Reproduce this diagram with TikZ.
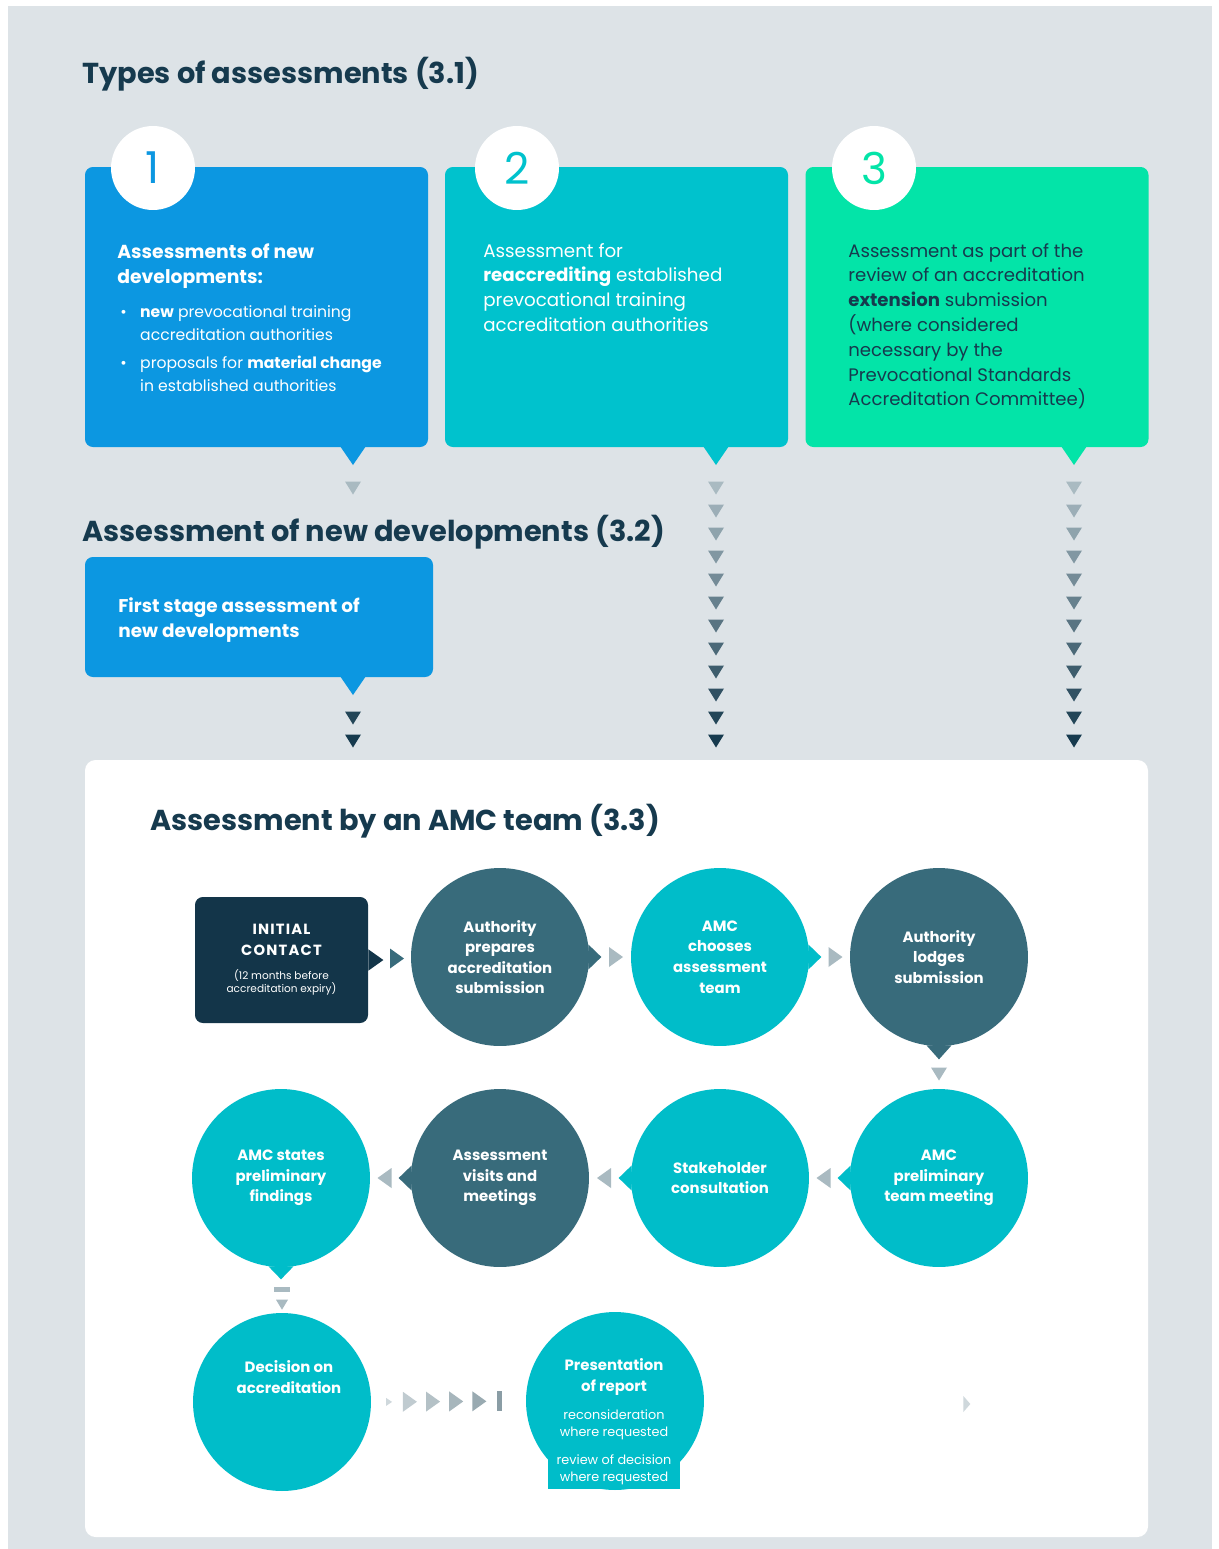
\documentclass[tikz,border=0pt]{standalone}
\usepackage{fontspec}
\setmainfont{Poppins}
\usetikzlibrary{calc}
\definecolor{bggray}{HTML}{DDE3E7}
\definecolor{navy}{HTML}{163A4E}
\definecolor{boxblue}{HTML}{0C97E1}
\definecolor{boxteal}{HTML}{00C2CD}
\definecolor{boxgreen}{HTML}{03E4A8}
\definecolor{slate}{HTML}{386B7B}
\definecolor{cteal}{HTML}{00BDC9}
\definecolor{darkbox}{HTML}{133549}
\definecolor{lgray}{HTML}{A9BAC1}
\definecolor{mgray}{HTML}{8A9DA5}
\definecolor{fgray}{HTML}{CFD8DC}
\tikzset{
  heading/.style={anchor=base west, inner sep=0, font=\fontsize{16.4}{19}\selectfont\bfseries, text=navy},
  tbox/.style={rounded corners=4.5pt, inner sep=0, minimum width=343*0.02cm, minimum height=280*0.02cm},
  numcirc/.style={circle, fill=white, inner sep=0, minimum size=1.68cm, font=\fontsize{25}{25}\selectfont},
  btext/.style={anchor=north west, inner sep=0, align=left},
  circ/.style={circle, inner sep=0, minimum size=3.56cm, text=white, align=center, font=\fontsize{8.5}{11.7}\selectfont\bfseries},
  ctext/.style={inner sep=0, text=white, align=center},
}
\newcommand\mkright[2]{\fill[#2] ($(#1)+(-7,-10)$) -- ($(#1)+(-7,10)$) -- ($(#1)+(7,0)$) -- cycle;}
\newcommand\mkleft[2]{\fill[#2] ($(#1)+(7,-10)$) -- ($(#1)+(7,10)$) -- ($(#1)+(-7,0)$) -- cycle;}
\newcommand\mkdown[2]{\fill[#2] ($(#1)+(-8,-6.5)$) -- ($(#1)+(8,-6.5)$) -- ($(#1)+(0,6.5)$) -- cycle;}
\begin{document}
\begin{tikzpicture}[x=0.02cm,y=-0.02cm]
\useasboundingbox (0,0) rectangle (1219,1549);
\fill[white] (0,0) rectangle (1219,1549);
\fill[bggray] (8,6) rectangle (1212,1549);

% ---------- 3.1 ----------
\node[heading] (h1) at (82,83) {Types of assessments (3.1)};

\node[tbox, fill=boxblue] (b1) at (256.5,307) {};
\node[tbox, fill=boxteal] (b2) at (616.5,307) {};
\node[tbox, fill=boxgreen] (b3) at (977,307) {};
\fill[boxblue] (340,446) -- (366,446) -- (353,465) -- cycle;
\fill[boxteal] (703,446) -- (729,446) -- (716,465) -- cycle;
\fill[boxgreen] (1061,446) -- (1087,446) -- (1074,465) -- cycle;
\node[numcirc] (n1) at (153,168) {\textcolor{boxblue}{1}};
\node[numcirc] (n2) at (517,168) {\textcolor{boxteal}{2}};
\node[numcirc] (n3) at (874,168) {\textcolor{boxgreen}{3}};

\node[btext, text=white, font=\fontsize{10.7}{14.2}\selectfont\bfseries] (t1a) at (117,243) {Assessments of new\\developments:};
\node[btext, text=white, font=\fontsize{8.9}{13}\selectfont] (t1b) at (120,301)
  {\begin{tabular}{@{}p{11.3pt}@{}l@{}}\textbullet & \textbf{new} prevocational training\\
   & accreditation authorities\\[3pt]
   \textbullet & proposals for \textbf{material change}\\
   & in established authorities\end{tabular}};
\node[btext, text=white, font=\fontsize{10.4}{14}\selectfont] (t2) at (483,243)
  {Assessment for\\\textbf{reaccrediting} established\\prevocational training\\accreditation authorities};
\node[btext, text=navy, font=\fontsize{10.3}{14.1}\selectfont] (t3) at (848,243)
  {Assessment as part of the\\review of an accreditation\\\textbf{extension} submission\\(where considered\\necessary by the\\Prevocational Standards\\Accreditation Committee)};

% ---------- arrow columns ----------
\foreach \i in {0,...,11}{
  \pgfmathsetmacro\p{100*\i/11}
  \coordinate (cb\i) at (716,488+23*\i);
  \coordinate (cc\i) at (1074,488+23*\i);
  \mkdown{cb\i}{navy!\p!lgray}
  \mkdown{cc\i}{navy!\p!lgray}
}
\coordinate (ca0) at (353,488);
\coordinate (ca1) at (353,718);
\coordinate (ca2) at (353,741);
\mkdown{ca0}{lgray}
\mkdown{ca1}{navy!91!lgray}
\mkdown{ca2}{navy}

% ---------- 3.2 ----------
\node[heading] (h2) at (82,541) {Assessment of new developments (3.2)};
\node[rounded corners=4.5pt, inner sep=0, fill=boxblue, minimum width=348*0.02cm, minimum height=120*0.02cm] (fs) at (259,617) {};
\fill[boxblue] (340,676) -- (366,676) -- (353,695) -- cycle;
\node[btext, text=white, font=\fontsize{10.5}{14.2}\selectfont\bfseries] (fst) at (118,597) {First stage assessment of\\new developments};

% ---------- 3.3 panel ----------
\node[fill=white, rounded corners=6pt, inner sep=0, minimum width=1063*0.02cm, minimum height=777*0.02cm] (panel) at (616.5,1148.5) {};
\node[heading] (h3) at (150,830) {Assessment by an AMC team (3.3)};

% row 1
\node[fill=darkbox, rounded corners=4.5pt, inner sep=0, minimum width=173*0.02cm, minimum height=126*0.02cm] (ic) at (281.5,960) {};
\node[ctext, font=\fontsize{8.4}{12}\selectfont\bfseries\addfontfeature{LetterSpace=8}] (icA) at ($(ic.center)+(0,-20)$) {INITIAL\\CONTACT};
\node[ctext, font=\fontsize{6}{7.4}\selectfont] (icB) at ($(ic.center)+(0,22)$) {(12 months before\\accreditation expiry)};

\node[circ, fill=slate] (c1) at (500,957) {Authority\\prepares\\accreditation\\submission};
\node[circ, fill=cteal] (c2) at (720,957) {AMC\\chooses\\assessment\\team};
\node[circ, fill=slate] (c3) at (939,957) {Authority\\lodges\\submission};
% row 2
\node[circ, fill=cteal] (c4) at (939,1178) {AMC\\preliminary\\team meeting};
\node[circ, fill=cteal] (c5) at (720,1178) {Stakeholder\\consultation};
\node[circ, fill=slate] (c6) at (500,1178) {Assessment\\visits and\\meetings};
\node[circ, fill=cteal] (c7) at (281,1178) {AMC states\\preliminary\\findings};
% row 3
\node[circ, fill=cteal] (c8) at (282,1402) {};
\node[circ, fill=cteal] (c9) at (615,1401) {};
\node[ctext, font=\fontsize{8.5}{12.4}\selectfont\bfseries] (c8t) at (289,1377) {Decision on\\accreditation};
\node[ctext, font=\fontsize{8.5}{12.4}\selectfont\bfseries] (c9t) at (614,1377) {Presentation\\of report};
\node[ctext, font=\fontsize{7.3}{9.8}\selectfont] (c9s) at (614,1425) {reconsideration\\where requested};
\node[fill=cteal, inner sep=0, minimum width=132*0.02cm, minimum height=38*0.02cm, text=white, align=center, font=\fontsize{7.3}{9.8}\selectfont] (rv) at (614,1470) {review of decision\\where requested};

% pointers (speech-bubble tips)
\fill[darkbox] (ic.7) -- ($(ic.east)+(15,0)$) -- (ic.-7) -- cycle;
\fill[slate] (c1.8) -- ($(c1.east)+(12,0)$) -- (c1.-8) -- cycle;
\fill[cteal] (c2.8) -- ($(c2.east)+(12,0)$) -- (c2.-8) -- cycle;
\fill[slate] (c3.-82) -- ($(c3.south)+(0,13)$) -- (c3.-98) -- cycle;
\fill[cteal] (c4.172) -- ($(c4.west)+(-12,0)$) -- (c4.188) -- cycle;
\fill[cteal] (c5.172) -- ($(c5.west)+(-12,0)$) -- (c5.188) -- cycle;
\fill[slate] (c6.172) -- ($(c6.west)+(-12,0)$) -- (c6.188) -- cycle;
\fill[cteal] (c7.-82) -- ($(c7.south)+(0,12)$) -- (c7.-98) -- cycle;

% flow markers
\coordinate (m1) at ($($(ic.east)+(15,0)$)!0.5!(c1.west)$);
\coordinate (m2) at ($($(c1.east)+(12,0)$)!0.5!(c2.west)$);
\coordinate (m3) at ($($(c2.east)+(12,0)$)!0.5!(c3.west)$);
\coordinate (m4) at ($($(c3.south)+(0,13)$)!0.5!(c4.north)$);
\coordinate (m5) at ($($(c4.west)+(-12,0)$)!0.5!(c5.east)$);
\coordinate (m6) at ($($(c5.west)+(-12,0)$)!0.5!(c6.east)$);
\coordinate (m7) at ($($(c6.west)+(-12,0)$)!0.5!(c7.east)$);
\mkright{m1}{slate}
\mkright{m2}{lgray}
\mkright{m3}{lgray}
\mkdown{m4}{lgray}
\mkleft{m5}{lgray}
\mkleft{m6}{lgray}
\mkleft{m7}{lgray}
% c7 -> c8
\coordinate (m8a) at ($(c7.south)+(1,22)$);
\coordinate (m8b) at ($(c8.north)+(0,-8)$);
\fill[lgray] ($(m8a)+(-8,-2.5)$) rectangle ($(m8a)+(8,2.5)$);
\fill[lgray] ($(m8b)+(-6,-5)$) -- ($(m8b)+(6,-5)$) -- ($(m8b)+(0,5)$) -- cycle;
% c8 -> c9
\coordinate (r0) at ($(c8.east)!0.115!(c9.west)$);
\fill[fgray] ($(r0)+(-3,-4)$) -- ($(r0)+(-3,4)$) -- ($(r0)+(3,0)$) -- cycle;
\foreach \f/\c in {0.25/22, 0.40/40, 0.55/58, 0.70/78}{
  \coordinate (rr) at ($(c8.east)!\f!(c9.west)$);
  \mkright{rr}{mgray!\c!fgray}
}
\coordinate (r5) at ($(c8.east)!0.83!(c9.west)$);
\fill[mgray] ($(r5)+(-2.5,-10)$) rectangle ($(r5)+(2.5,10)$);
\coordinate (fm) at ($(c9.east)+(262,3)$);
\fill[fgray] ($(fm)+(-3,-8)$) -- ($(fm)+(-3,8)$) -- ($(fm)+(4,0)$) -- cycle;
\end{tikzpicture}
\end{document}
